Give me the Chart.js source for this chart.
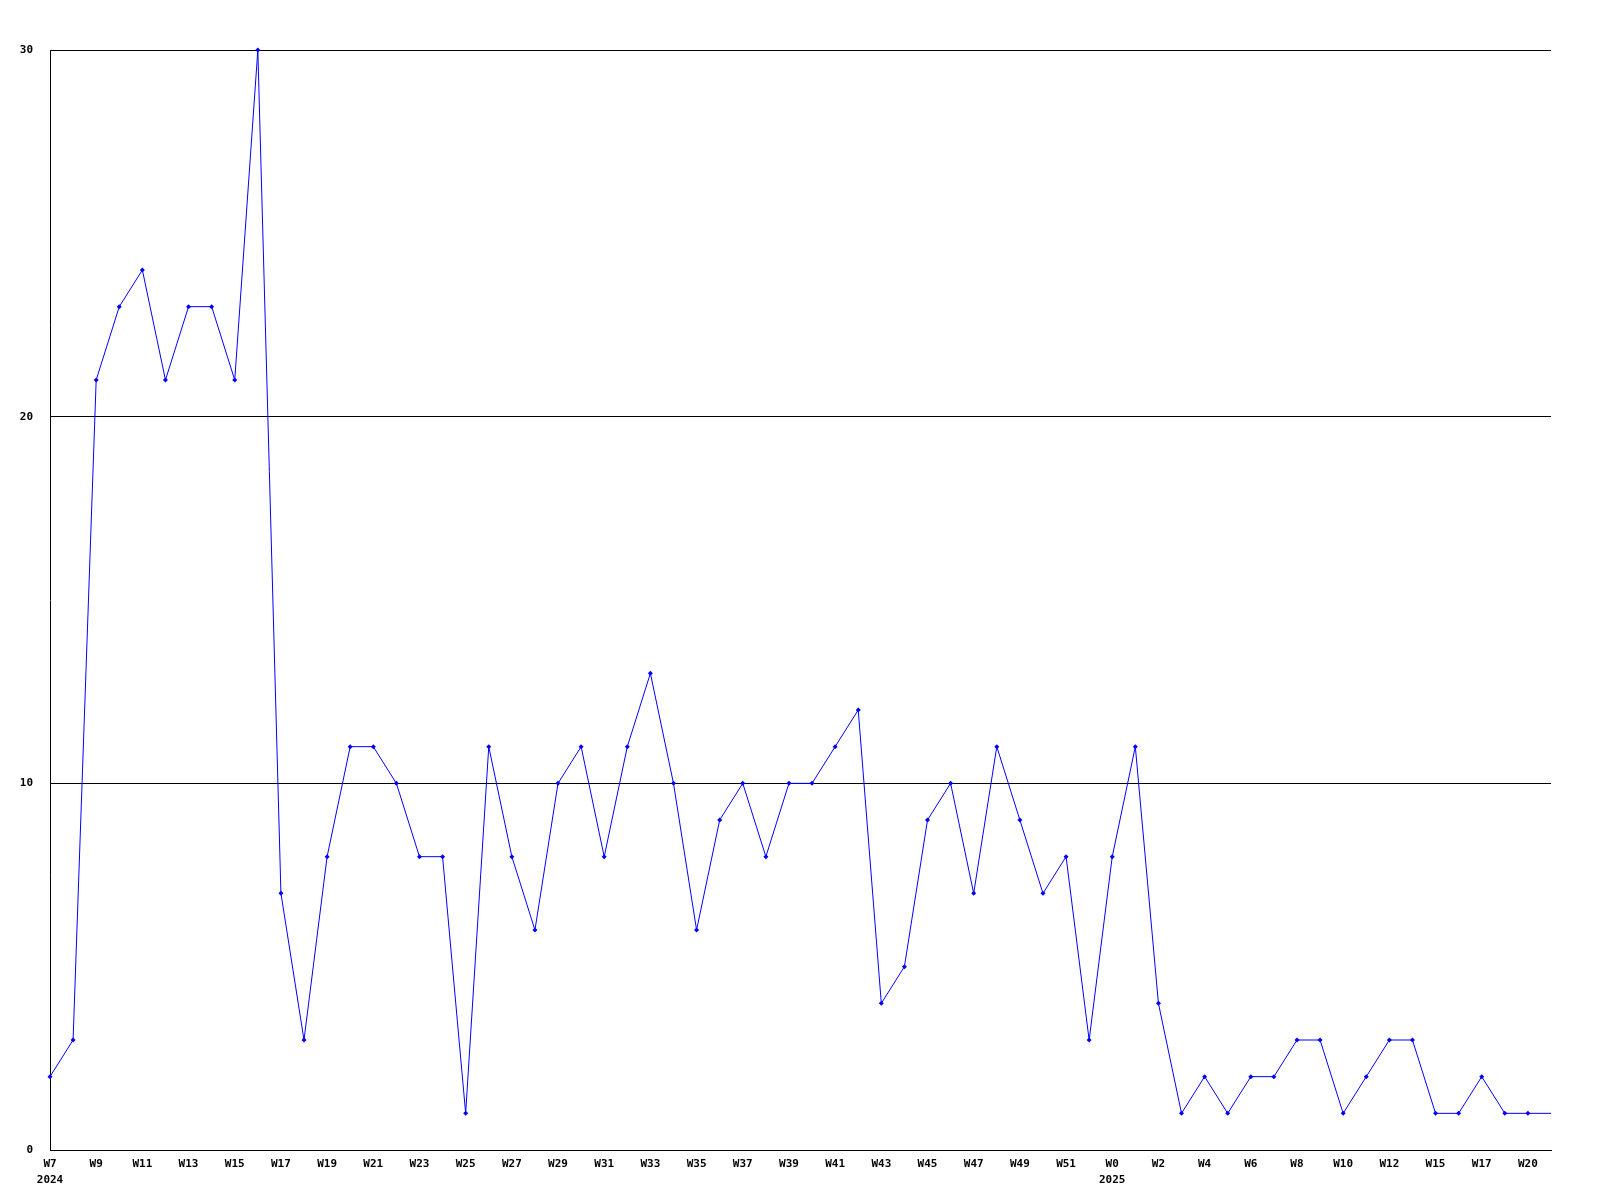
<!DOCTYPE html>
<html>
<head>
<meta charset="utf-8">
<script src="https://cdn.jsdelivr.net/npm/chart.js@4"></script>
<style>
  body { margin: 0; background: #ffffff; }
  canvas { display: block; }
</style>
</head>
<body>
<canvas id="weeklyChart" width="1600" height="1200"></canvas>
<script>
// week tick labels, '' where the reference shows no label
const weekLabels = [
    'W7', '', 'W9', '', 'W11', '', 'W13', '', 'W15', '', 'W17', '', 'W19', '', 'W21', '',
    'W23', '', 'W25', '', 'W27', '', 'W29', '', 'W31', '', 'W33', '', 'W35', '', 'W37', '',
    'W39', '', 'W41', '', 'W43', '', 'W45', '', 'W47', '', 'W49', '', 'W51', '', 'W0', '',
    'W2', '', 'W4', '', 'W6', '', 'W8', '', 'W10', '', 'W12', '', 'W15', '', 'W17', '',
    'W20', ''
];
// year shown under the first week of each year
const yearIndex = [0, 46];
const yearLabels = ['2024', '2025'];

const counts = [
    2, 3, 21, 23, 24, 21, 23, 23, 21, 30, 7, 3, 8, 11, 11, 10,
    8, 8, 1, 11, 8, 6, 10, 11, 8, 11, 13, 10, 6, 9, 10, 8,
    10, 10, 11, 12, 4, 5, 9, 10, 7, 11, 9, 7, 8, 3, 8, 11,
    4, 1, 2, 1, 2, 2, 3, 3, 1, 2, 3, 3, 1, 1, 2, 1,
    1, 1
];

const yTicks = [0, 10, 20, 30];

const labelFont = { family: '"DejaVu Sans Mono", monospace', size: 11, weight: 'bold', lineHeight: 1.45 };

const labels = weekLabels.map((w, i) => {
    const y = yearIndex.indexOf(i);
    return y >= 0 ? [w, yearLabels[y]] : w;
});

const ctx = document.getElementById('weeklyChart').getContext('2d');
new Chart(ctx, {
    type: 'line',
    data: {
        labels: labels,
        datasets: [{
            data: counts,
            borderColor: '#0000ff',
            backgroundColor: '#0000ff',
            borderWidth: 1,
            pointStyle: 'rectRot',
            // the current (last) week has no marker in the original
            pointRadius: c => c.dataIndex === counts.length - 1 ? 0 : 2.5,
            pointBorderWidth: 0,
            tension: 0,
            fill: false,
            clip: false
        }]
    },
    options: {
        responsive: false,
        animation: false,
        layout: { padding: { top: 50, right: 49, left: 0, bottom: 0 } },
        plugins: {
            legend: { display: false },
            tooltip: { enabled: false }
        },
        scales: {
            x: {
                type: 'category',
                offset: false,
                grid: { display: false, drawTicks: false },
                border: { display: true, color: '#000000', width: 1 },
                ticks: {
                    autoSkip: false,
                    maxRotation: 0,
                    minRotation: 0,
                    padding: 6,
                    color: '#000000',
                    font: labelFont
                },
                afterFit: scale => { scale.height = 50; }
            },
            y: {
                min: 0,
                max: 30,
                afterBuildTicks: scale => { scale.ticks = yTicks.map(v => ({ value: v })); },
                grid: { color: '#000000', lineWidth: 1, drawTicks: false },
                border: { display: true, color: '#000000', width: 1 },
                ticks: {
                    padding: 17,
                    color: '#000000',
                    font: labelFont
                },
                afterFit: scale => { scale.width = 50; }
            }
        }
    }
});
</script>
</body>
</html>
